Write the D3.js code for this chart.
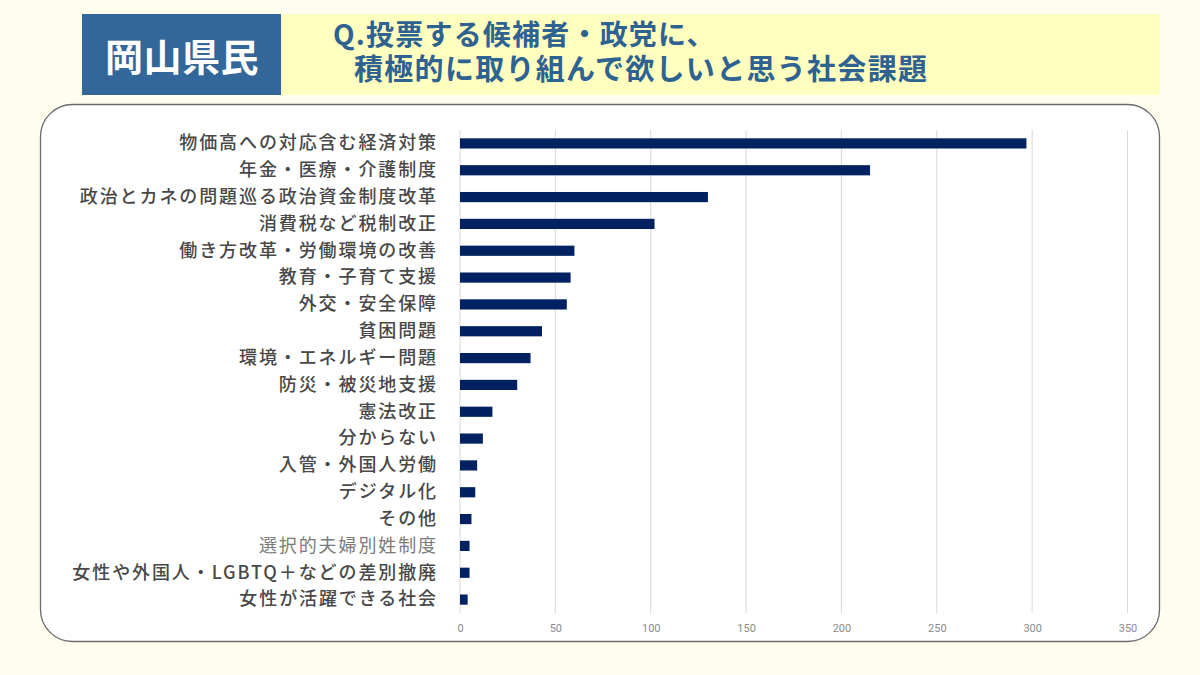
<!DOCTYPE html>
<html><head><meta charset="utf-8">
<script src="https://cdn.jsdelivr.net/npm/d3@7"></script>
<style>
html,body{margin:0;padding:0;background:#fffeee;}
svg{display:block;}
</style></head>
<body>
<svg id="c" width="1200" height="675"></svg>
<script>
const categories = [
  "物価高への対応含む経済対策",
  "年金・医療・介護制度",
  "政治とカネの問題巡る政治資金制度改革",
  "消費税など税制改正",
  "働き方改革・労働環境の改善",
  "教育・子育て支援",
  "外交・安全保障",
  "貧困問題",
  "環境・エネルギー問題",
  "防災・被災地支援",
  "憲法改正",
  "分からない",
  "入管・外国人労働",
  "デジタル化",
  "その他",
  "選択的夫婦別姓制度",
  "女性や外国人・LGBTQ＋などの差別撤廃",
  "女性が活躍できる社会"
];
const values = [297, 215, 130, 102, 60, 58, 56, 43, 37, 30, 17, 12, 9, 8, 6, 5, 5, 4];
const xTicks = [0, 50, 100, 150, 200, 250, 300, 350];
const badge = "岡山県民";
const titleLines = ["Q.投票する候補者・政党に、", "積極的に取り組んで欲しいと思う社会課題"];

const svg = d3.select("#c");
const JP = "'Noto Sans CJK JP','Noto Sans CJK SC',sans-serif";

svg.append("rect").attr("width",1200).attr("height",675).attr("fill","#fffeee");

// header
svg.append("rect").attr("x",281).attr("y",14).attr("width",879).attr("height",81).attr("fill","#ffffc0");
svg.append("rect").attr("x",82).attr("y",14).attr("width",199).attr("height",81).attr("fill","#336699");
svg.append("text").attr("x",182).attr("y",54).attr("text-anchor","middle").attr("dominant-baseline","central")
  .attr("fill","#ffffff").attr("font-family",JP).attr("font-weight","bold").attr("font-size",38).attr("letter-spacing",0.5).text(badge);
const tx = [333, 354];
const ty = [45, 80];
const tfs = [28, 29];
const tls = [1.2, 1.3];
const title = svg.append("text").attr("fill","#2e6290").attr("font-family",JP).attr("font-weight","bold");
titleLines.forEach((t,i)=>{
  title.append("tspan").attr("x",tx[i]).attr("y",ty[i])
    .attr("font-size",tfs[i]).attr("letter-spacing",tls[i]).text(t);
});

// frame
svg.append("rect").attr("x",40.5).attr("y",104.5).attr("width",1119).attr("height",537).attr("rx",32).attr("ry",32)
  .attr("fill","#ffffff").attr("stroke","#6b6b6b").attr("stroke-width",1.3);

// chart
const x = d3.scaleLinear().domain([0,350]).range([460,1127.5]);
const y = d3.scaleBand().domain(categories).range([130,613]).paddingInner(0.62).paddingOuter(0.31);

const g = svg.append("g");
g.selectAll("line.grid").data(xTicks).join("line").attr("class","grid")
  .attr("x1",d=>x(d)).attr("x2",d=>x(d)).attr("y1",130).attr("y2",613)
  .attr("stroke","#d9d9d9").attr("stroke-width",1);

const xAxis = d3.axisBottom(x).tickValues(xTicks).tickSize(0).tickPadding(0);
const ax = g.append("g").attr("transform","translate(0,628)").call(xAxis);
ax.select(".domain").remove();
ax.selectAll("text").attr("fill","#8c8c8c").attr("font-family","'Liberation Sans Narrow','Roboto',sans-serif")
  .attr("font-size",11).attr("dy","0.32em").attr("y",0);

g.selectAll("rect.bar").data(values).join("rect").attr("class","bar")
  .attr("x",x(0)).attr("y",(d,i)=>y(categories[i])).attr("height",y.bandwidth())
  .attr("width",d=>x(d)-x(0)).attr("fill","#022160");

const yAxis = d3.axisLeft(y).tickSize(0).tickPadding(0);
const ay = g.append("g").attr("transform","translate(438,0)").call(yAxis);
ay.select(".domain").remove();
ay.selectAll("text").attr("fill",d=>d==="選択的夫婦別姓制度" ? "#7a7a7a" : "#484848")
  .attr("font-family",JP).attr("font-weight",d=>d==="選択的夫婦別姓制度" ? "normal" : "500")
  .attr("font-size",18).attr("letter-spacing",1.9);
</script>
</body></html>
